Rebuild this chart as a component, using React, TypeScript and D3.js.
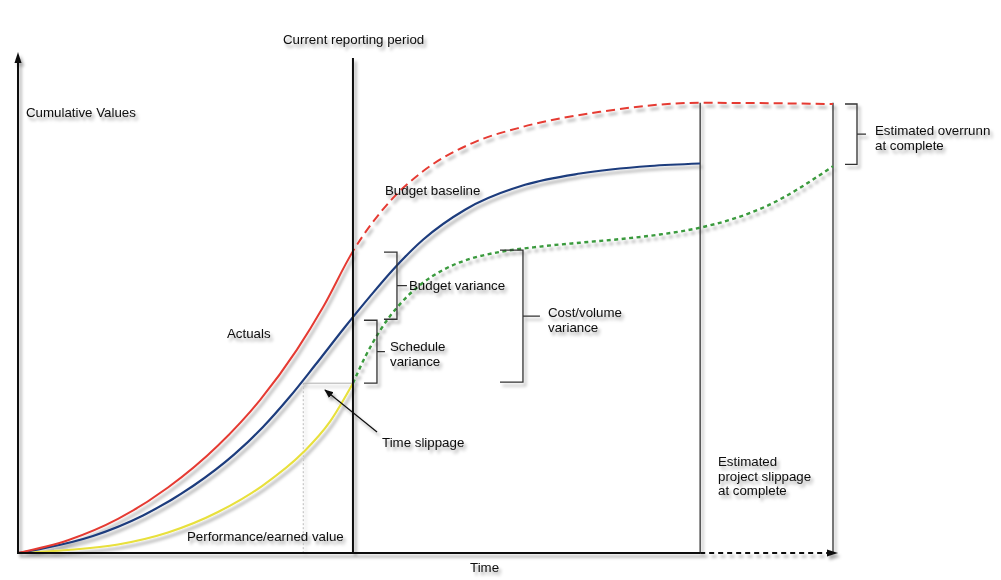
import React from 'react';
import * as d3 from 'd3';

const W = 1001;
const H = 580;

// Time (0..100) and cumulative value (0..100)
const REPORT_T = 41.1;
const BASELINE_END_T = 83.7;
const FORECAST_END_T = 100;
const SLIP_T = 35.0;

// Actuals (solid up to the reporting period, dashed forecast afterwards)
const actualT = [0, 6.13, 12.27, 18.4, 24.54, 29.69, 34.23, 37.42, 41.1, 45.64, 49.69, 55.83, 61.96, 71.41, 83.68, 100];
const actualV = [0, 2.55, 6.83, 13.15, 21.59, 30.72, 40.84, 49.34, 60.6, 70.62, 76.65, 82.37, 85.58, 88.59, 90.4, 90.16];

// Budget baseline
const baselineT = [0, 3.07, 9.2, 15.34, 21.47, 26.5, 30.06, 33.37, 36.44, 40.12, 43.19, 46.01, 49.69, 54.85, 62.21, 68.96, 77.55, 83.68];
const baselineV = [0, 0.9, 3.41, 7.53, 13.45, 19.76, 25.3, 31.41, 37.69, 45.38, 51.53, 56.89, 62.91, 68.94, 73.94, 76.2, 77.71, 78.21];

// Performance / earned value
const earnedT = [0, 6.13, 12.27, 18.4, 24.54, 29.94, 34.97, 38.28, 41.1];
const earnedV = [0, 0.6, 1.71, 4.12, 8.23, 13.45, 20.16, 26.39, 34.1];

// Forecast of earned value (green dotted)
const forecastT = [41.1, 42.58, 44.42, 46.87, 49.33, 52.39, 55.46, 59.14, 64.05, 68.96, 73.87, 78.77, 83.68, 91.9, 100];
const forecastV = [34.1, 39.32, 44.66, 49.98, 53.8, 57.05, 59.06, 60.46, 61.53, 62.31, 63.03, 63.96, 65.32, 69.7, 77.65];

const zip = (a: number[], b: number[]): [number, number][] => a.map((t, i) => [t, b[i]]);

export default function App() {
  const x = d3.scaleLinear().domain([0, 100]).range([18, 833]);
  const y = d3.scaleLinear().domain([0, 100]).range([553, 55]);
  const line = d3
    .line<[number, number]>()
    .x((d) => x(d[0]))
    .y((d) => y(d[1]))
    .curve(d3.curveMonotoneX);

  const actualPath = line(zip(actualT, actualV)) || '';
  const baselinePath = line(zip(baselineT, baselineV)) || '';
  const earnedPath = line(zip(earnedT, earnedV)) || '';
  const forecastPath = line(zip(forecastT, forecastV)) || '';

  const interpBaseline = d3.scaleLinear().domain(baselineT).range(baselineV);

  const xr = x(REPORT_T);
  const xb = x(BASELINE_END_T);
  const xf = x(FORECAST_END_T);
  const y0 = y(0);
  const redAtReport = y(actualV[actualT.indexOf(REPORT_T)]);
  const blueAtReport = y(interpBaseline(REPORT_T)) + 2;
  const evAtReport = y(earnedV[earnedV.length - 1]);
  const greenPlateau = y(60.8);
  const redEnd = y(actualV[actualV.length - 1]);
  const greenEnd = y(forecastV[forecastV.length - 1]);
  const lineTop = y(90.4);

  const bracket = (bx: number, y1: number, y2: number, tick: number, mid: number) =>
    `M${bx - tick},${y1}H${bx}V${y2}H${bx - tick}M${bx},${(y1 + y2) / 2}H${bx + mid}`;

  const font = { fontFamily: 'Liberation Sans, Arial, Helvetica, sans-serif', fontSize: 13.3, fill: '#0d0d0d' };

  return (
    <svg
      width={W}
      height={H}
      viewBox={`0 0 ${W} ${H}`}
      style={{ position: 'absolute', left: 0, top: 0, background: '#fff' }}
    >
      <defs>
        <filter id="sh" x="-10%" y="-10%" width="120%" height="120%">
          <feDropShadow dx="2.5" dy="3.5" stdDeviation="1.8" floodColor="#000" floodOpacity="0.35" />
        </filter>
        <clipPath id="solidClip">
          <rect x={0} y={0} width={xr} height={H} />
        </clipPath>
        <clipPath id="dashClip">
          <rect x={xr} y={0} width={W - xr} height={H} />
        </clipPath>
        <marker id="arr" viewBox="0 0 10 10" refX="9" refY="5" markerWidth="9" markerHeight="9" orient="auto" markerUnits="userSpaceOnUse">
          <path d="M0,1 L10,5 L0,9 Z" fill="#111" />
        </marker>
      </defs>
      <g filter="url(#sh)">
        {/* helper lines for time slippage */}
        <line x1={x(SLIP_T)} x2={xr} y1={evAtReport} y2={evAtReport} stroke="#999" strokeWidth={0.8} />
        <line x1={x(SLIP_T)} x2={x(SLIP_T)} y1={evAtReport} y2={y0} stroke="#aaa" strokeWidth={0.8} strokeDasharray="2,2" />

        {/* vertical frame lines */}
        <line x1={xb} x2={xb} y1={lineTop} y2={y0} stroke="#333" strokeWidth={1.3} />
        <line x1={xf} x2={xf} y1={lineTop} y2={y0} stroke="#333" strokeWidth={1.3} />

        {/* curves */}
        <path d={earnedPath} fill="none" stroke="#e8e03c" strokeWidth={2.1} />
        <path d={baselinePath} fill="none" stroke="#1f3c7d" strokeWidth={2.2} />
        <path d={actualPath} fill="none" stroke="#e53a33" strokeWidth={2} clipPath="url(#solidClip)" />
        <path d={actualPath} fill="none" stroke="#e53a33" strokeWidth={2} strokeDasharray="9,5" clipPath="url(#dashClip)" />
        <path d={forecastPath} fill="none" stroke="#3a9a3e" strokeWidth={2.4} strokeDasharray="4,3.5" />

        {/* reporting period line */}
        <line x1={xr} x2={xr} y1={y(99.4)} y2={y0} stroke="#111" strokeWidth={2} />

        {/* axes */}
        <line x1={x(0)} x2={x(0)} y1={y0} y2={y(100) + 6} stroke="#111" strokeWidth={2} />
        <path d={`M${x(0)},${y(100) - 3}L${x(0) - 3.5},${y(100) + 8}L${x(0) + 3.5},${y(100) + 8}Z`} fill="#111" />
        <line x1={x(0) - 1} x2={xb} y1={y0} y2={y0} stroke="#111" strokeWidth={2} />
        <line x1={xb} x2={xf - 4} y1={y0} y2={y0} stroke="#111" strokeWidth={1.8} strokeDasharray="5,4" />
        <path d={`M${xf + 5},${y0}L${xf - 6},${y0 - 3.5}L${xf - 6},${y0 + 3.5}Z`} fill="#111" />

        {/* brackets */}
        <path d={bracket(xr + 44, redAtReport + 1, blueAtReport, 13, 10)} fill="none" stroke="#333" strokeWidth={1.3} />
        <path d={bracket(xr + 24, blueAtReport + 1, evAtReport, 13, 8)} fill="none" stroke="#333" strokeWidth={1.3} />
        <path d={bracket(xr + 170, greenPlateau, evAtReport - 1, 23, 17)} fill="none" stroke="#333" strokeWidth={1.3} />
        <path d={bracket(xf + 24, redEnd, greenEnd - 2, 12, 9)} fill="none" stroke="#333" strokeWidth={1.3} />

        {/* time slippage arrow */}
        <line x1={377} x2={325} y1={432} y2={390} stroke="#111" strokeWidth={1.2} markerEnd="url(#arr)" />

        {/* labels */}
        <text x={283} y={44} {...font}>Current reporting period</text>
        <text x={26} y={117} {...font}>Cumulative Values</text>
        <text x={385} y={195} {...font}>Budget baseline</text>
        <text x={227} y={338} {...font}>Actuals</text>
        <text x={409} y={290} {...font}>Budget variance</text>
        <text x={390} y={351} {...font}>Schedule</text>
        <text x={390} y={366} {...font}>variance</text>
        <text x={548} y={317} {...font}>Cost/volume</text>
        <text x={548} y={332} {...font}>variance</text>
        <text x={875} y={135} {...font}>Estimated overrunn</text>
        <text x={875} y={150} {...font}>at complete</text>
        <text x={382} y={447} {...font}>Time slippage</text>
        <text x={187} y={541} {...font}>Performance/earned value</text>
        <text x={470} y={572} {...font}>Time</text>
        <text x={718} y={466} {...font}>Estimated</text>
        <text x={718} y={481} {...font}>project slippage</text>
        <text x={718} y={495} {...font}>at complete</text>
      </g>
    </svg>
  );
}
